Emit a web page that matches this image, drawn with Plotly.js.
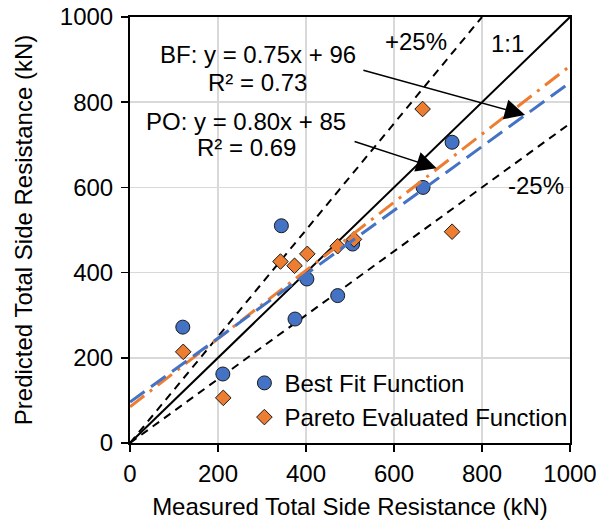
<!DOCTYPE html>
<html>
<head>
<meta charset="utf-8">
<script src="https://cdn.plot.ly/plotly-3.0.1.min.js"></script>
<style>html,body{margin:0;padding:0;background:#fff;}#chart{width:596px;height:520px;}</style>
</head>
<body>
<div id="chart"></div>
<script>
// Measured vs predicted total side resistance (kN)
const bfMeasured = [120, 211, 344, 375, 402, 472, 506, 666, 732];
const bfPredicted = [272, 162, 510, 291, 385, 346, 467, 600, 706];
const poMeasured = [121, 212, 342, 374, 403, 472, 509, 665, 732];
const poPredicted = [214, 106, 426, 416, 444, 462, 478, 784, 496];

// Trendlines (from the fitted equations shown on the chart)
const bfFitX = [0, 1000];
const bfFitY = [96, 846];
const poFitX = [0, 1000];
const poFitY = [85, 885];

// Reference lines
const oneToOneX = [0, 1000];
const oneToOneY = [0, 1000];
const plus25X = [0, 800];
const plus25Y = [0, 1000];
const minus25X = [0, 1000];
const minus25Y = [0, 750];

const tickVals = [0, 200, 400, 600, 800, 1000];
const seriesNames = ['Best Fit Function', 'Pareto Evaluated Function'];

const FONT = 'Arial, "Liberation Sans", sans-serif';
const FS = 24;
const BLUE = '#4472C4';
const ORANGE = '#ED7D31';

const traces = [
  {x: plus25X, y: plus25Y, mode: 'lines', line: {color: '#000', width: 2, dash: '8px,6px'}, showlegend: false, hoverinfo: 'skip'},
  {x: minus25X, y: minus25Y, mode: 'lines', line: {color: '#000', width: 2, dash: '8px,6px'}, showlegend: false, hoverinfo: 'skip'},
  {x: oneToOneX, y: oneToOneY, mode: 'lines', line: {color: '#000', width: 2}, showlegend: false, hoverinfo: 'skip'},
  {x: bfMeasured, y: bfPredicted, mode: 'markers', name: seriesNames[0],
   marker: {symbol: 'circle', size: 14, color: BLUE, line: {color: '#1a1a1a', width: 1}}},
  {x: poMeasured, y: poPredicted, mode: 'markers', name: seriesNames[1],
   marker: {symbol: 'diamond', size: 12, color: ORANGE, line: {color: '#1a1a1a', width: 1}}},
  {x: poFitX, y: poFitY, mode: 'lines', line: {color: ORANGE, width: 3, dash: '18px,7px,3px,7px'}, showlegend: false, hoverinfo: 'skip'},
  {x: bfFitX, y: bfFitY, mode: 'lines', line: {color: BLUE, width: 3, dash: '18px,8px'}, showlegend: false, hoverinfo: 'skip'}
];

function txt(t, x, y) {
  return {text: t, x: x, y: y, xref: 'x', yref: 'y', showarrow: false,
          font: {family: FONT, size: FS, color: '#000'}, xanchor: 'center', yanchor: 'middle'};
}
function arrow(x, y, ax, ay) {
  return {text: '', x: x, y: y, ax: ax, ay: ay, xref: 'x', yref: 'y', axref: 'x', ayref: 'y',
          showarrow: true, arrowhead: 2, arrowsize: 2.7, arrowwidth: 1.5, arrowcolor: '#000', standoff: 0};
}

const axisCommon = {
  range: [0, 1000], tickvals: tickVals, ticktext: tickVals.map(String),
  showgrid: true, gridcolor: '#d9d9d9', gridwidth: 1.5,
  zeroline: false, showline: true, linecolor: '#000', linewidth: 2, mirror: true,
  ticks: 'outside', ticklen: 7, tickwidth: 1.5, tickcolor: '#000',
  ticklabeloverflow: 'allow',
  tickfont: {family: FONT, size: FS, color: '#000'}
};

const layout = {
  width: 596, height: 520,
  margin: {l: 130, r: 26, t: 17, b: 77},
  paper_bgcolor: '#fff', plot_bgcolor: '#fff',
  font: {family: FONT, size: FS, color: '#000'},
  xaxis: Object.assign({}, axisCommon, {
    ticklabelstandoff: 1,
    title: {text: 'Measured Total Side Resistance (kN)', font: {family: FONT, size: FS, color: '#000'}, standoff: 17}
  }),
  yaxis: Object.assign({}, axisCommon, {
    ticklabelstandoff: 3,
    title: {text: 'Predicted Total Side Resistance (kN)', font: {family: FONT, size: FS, color: '#000'}, standoff: 20}
  }),
  legend: {x: 0.26, y: 0.193, xanchor: 'left', yanchor: 'top', bgcolor: 'rgba(0,0,0,0)',
           font: {family: FONT, size: FS, color: '#000'}, tracegroupgap: 0},
  showlegend: true,
  annotations: [
    txt('+25%', 650, 942),
    txt('1:1', 857, 938),
    txt('-25%', 922, 605),
    txt('BF: y = 0.75x + 96', 290, 912),
    txt('R² = 0.73', 289, 847),
    txt('PO: y = 0.80x + 85', 264, 755),
    txt('R² = 0.69', 264, 693),
    arrow(898, 770, 527, 876),
    arrow(697, 645, 507, 709)
  ]
};

Plotly.newPlot('chart', traces, layout, {displayModeBar: false, staticPlot: true});
</script>
</body>
</html>
